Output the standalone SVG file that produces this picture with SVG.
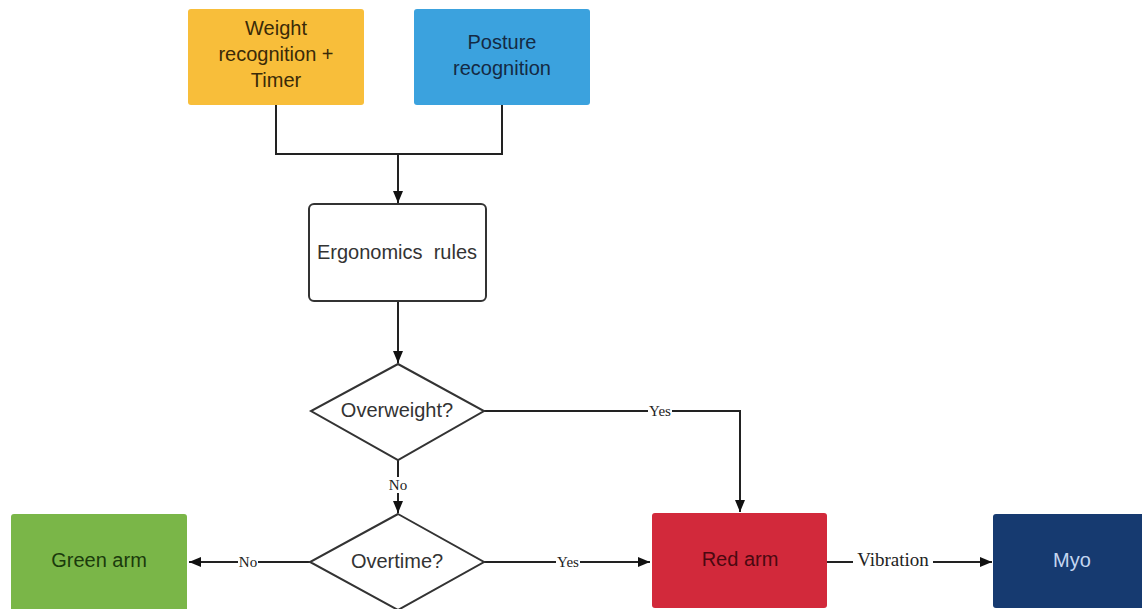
<svg xmlns="http://www.w3.org/2000/svg" width="1142" height="609" viewBox="0 0 1142 609">
<defs>
<marker id="arr" viewBox="0 0 12 10" refX="12" refY="5" markerWidth="12" markerHeight="10" markerUnits="userSpaceOnUse" orient="auto">
<path d="M0,0 L12,5 L0,10 z" fill="#111"/>
</marker>
<style>
.node text{font-family:"Liberation Sans",Arial,sans-serif;font-size:20px;text-anchor:middle;dominant-baseline:central}
.conn path{fill:none;stroke:#222;stroke-width:2}
.lbl{font-family:"Liberation Serif","Times New Roman",serif;font-size:15px;text-anchor:middle;dominant-baseline:central;fill:#222}
.big{font-size:19px}
.lblbg{fill:#fff}
</style>
</defs>
<rect width="1142" height="609" fill="#fff"/>
<g id="connectors" class="conn">
<path d="M276,105 V154 H502 V105"/>
<path d="M398,154 V203" marker-end="url(#arr)"/>
<path d="M398,302 V363" marker-end="url(#arr)"/>
<path d="M484,411 H740 V512" marker-end="url(#arr)"/>
<path d="M398,460 V513" marker-end="url(#arr)"/>
<path d="M310,562 H189" marker-end="url(#arr)"/>
<path d="M484,562 H650" marker-end="url(#arr)"/>
<path d="M827,562 H992" marker-end="url(#arr)"/>
<rect class="lblbg" x="648" y="403" width="24" height="16"/>
<text class="lbl" x="660" y="411">Yes</text>
<rect class="lblbg" x="388" y="477" width="20" height="16"/>
<text class="lbl" x="398" y="485">No</text>
<rect class="lblbg" x="238" y="554" width="20" height="16"/>
<text class="lbl" x="248" y="562">No</text>
<rect class="lblbg" x="556" y="554" width="24" height="16"/>
<text class="lbl" x="568" y="562">Yes</text>
<rect class="lblbg" x="853" y="550" width="80" height="20"/>
<text class="lbl big" x="893" y="559">Vibration</text>
</g>
<g id="weight" class="node">
<rect x="188" y="9" width="176" height="96" rx="3" fill="#F8BE3A"/>
<text x="276" y="28" fill="#3a2a08">Weight</text>
<text x="276" y="54" fill="#3a2a08">recognition +</text>
<text x="276" y="80" fill="#3a2a08">Timer</text>
</g>
<g id="posture" class="node">
<rect x="414" y="9" width="176" height="96" rx="3" fill="#3BA2DE"/>
<text x="502" y="42" fill="#142a44">Posture</text>
<text x="502" y="68" fill="#142a44">recognition</text>
</g>
<g id="ergonomics" class="node">
<rect x="309" y="204" width="177" height="97" rx="5" fill="#fff" stroke="#333" stroke-width="2"/>
<text x="397" y="252" fill="#333" style="white-space:pre">Ergonomics  rules</text>
</g>
<g id="overweight" class="node">
<path d="M398,364 L484,411 L398,460 L311,411 Z" fill="#fff" stroke="#333" stroke-width="2"/>
<text x="397" y="410" fill="#333">Overweight?</text>
</g>
<g id="overtime" class="node">
<path d="M398,514 L484,562 L398,610 L310,562 Z" fill="#fff" stroke="#333" stroke-width="2"/>
<text x="397" y="561" fill="#333">Overtime?</text>
</g>
<g id="green" class="node">
<rect x="11" y="514" width="176" height="100" rx="3" fill="#7AB648"/>
<text x="99" y="560" fill="#1a3a0c">Green arm</text>
</g>
<g id="red" class="node">
<rect x="652" y="513" width="175" height="95" rx="3" fill="#D2293B"/>
<text x="740" y="559" fill="#4a0810">Red arm</text>
</g>
<g id="myo" class="node">
<rect x="993" y="514" width="155" height="94" rx="3" fill="#163A70"/>
<text x="1072" y="560" fill="#c4d6f0">Myo</text>
</g>
</svg>
